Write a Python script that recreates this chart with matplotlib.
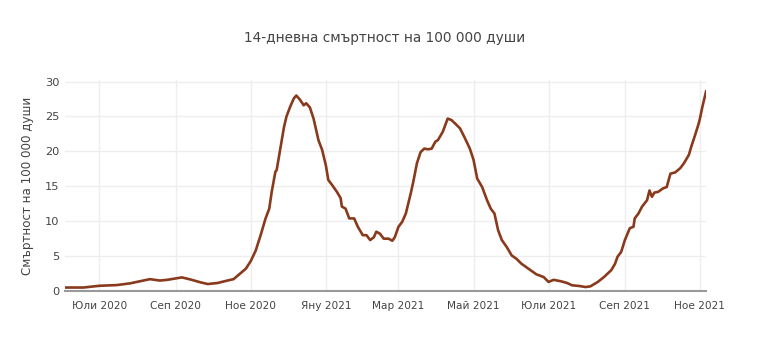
import pandas as pd
import matplotlib
matplotlib.use("Agg")
import matplotlib.pyplot as plt

# =========================
# DATA
# =========================
dates = [
    "2020-06-03", "2020-06-18", "2020-07-01", "2020-07-15", "2020-07-26",
    "2020-08-03", "2020-08-11", "2020-08-19", "2020-08-25", "2020-09-06",
    "2020-09-13", "2020-09-21", "2020-09-27", "2020-10-05", "2020-10-13",
    "2020-10-18", "2020-10-24", "2020-10-28", "2020-11-01", "2020-11-05",
    "2020-11-09", "2020-11-13", "2020-11-16", "2020-11-18", "2020-11-21",
    "2020-11-22", "2020-11-25", "2020-11-28", "2020-11-30", "2020-12-03",
    "2020-12-06", "2020-12-08", "2020-12-11", "2020-12-14", "2020-12-16",
    "2020-12-19", "2020-12-22", "2020-12-26", "2020-12-29", "2021-01-01",
    "2021-01-03", "2021-01-06", "2021-01-10", "2021-01-13", "2021-01-14",
    "2021-01-17", "2021-01-20", "2021-01-24", "2021-01-27", "2021-01-31",
    "2021-02-03", "2021-02-06", "2021-02-09", "2021-02-11", "2021-02-14",
    "2021-02-17", "2021-02-21", "2021-02-24", "2021-02-26", "2021-03-01",
    "2021-03-04", "2021-03-07", "2021-03-11", "2021-03-13", "2021-03-16",
    "2021-03-19", "2021-03-22", "2021-03-25", "2021-03-28", "2021-03-31",
    "2021-04-02", "2021-04-06", "2021-04-10", "2021-04-13", "2021-04-16",
    "2021-04-20", "2021-04-24", "2021-04-28", "2021-05-01", "2021-05-04",
    "2021-05-08", "2021-05-12", "2021-05-15", "2021-05-18", "2021-05-21",
    "2021-05-24", "2021-05-28", "2021-06-01", "2021-06-05", "2021-06-09",
    "2021-06-13", "2021-06-17", "2021-06-21", "2021-06-27", "2021-07-01",
    "2021-07-05", "2021-07-11", "2021-07-16", "2021-07-20", "2021-07-26",
    "2021-07-31", "2021-08-04", "2021-08-10", "2021-08-15", "2021-08-21",
    "2021-08-24", "2021-08-26", "2021-08-29", "2021-09-01", "2021-09-05",
    "2021-09-08", "2021-09-09", "2021-09-12", "2021-09-15", "2021-09-19",
    "2021-09-21", "2021-09-23", "2021-09-25", "2021-09-28", "2021-10-02",
    "2021-10-05", "2021-10-08", "2021-10-12", "2021-10-16", "2021-10-19",
    "2021-10-23", "2021-10-25", "2021-10-28", "2021-10-31", "2021-11-01",
    "2021-11-03", "2021-11-06",
]
deaths_per_100k = [
    0.5, 0.5, 0.75, 0.85, 1.1,
    1.4, 1.7, 1.5, 1.6, 1.95,
    1.65, 1.25, 1.0, 1.15, 1.5,
    1.7, 2.6, 3.2, 4.3, 5.8,
    8.0, 10.4, 11.8, 14.2, 17.1,
    17.3, 20.4, 23.5, 25.0, 26.4,
    27.6, 28.0, 27.4, 26.6, 26.9,
    26.3, 24.7, 21.6, 20.2, 18.0,
    15.9, 15.2, 14.2, 13.3, 12.1,
    11.8, 10.4, 10.4, 9.2, 8.0,
    8.0, 7.3, 7.7, 8.5, 8.2,
    7.5, 7.5, 7.2, 7.7, 9.2,
    9.9, 11.1, 14.0, 15.6, 18.3,
    19.9, 20.4, 20.3, 20.4, 21.4,
    21.6, 22.8, 24.7, 24.5, 24.0,
    23.3, 21.9, 20.4, 18.8, 16.1,
    14.9, 13.0, 11.8, 11.1, 8.7,
    7.3, 6.3, 5.1, 4.6, 3.9,
    3.4, 2.9, 2.4, 2.0, 1.3,
    1.6, 1.4, 1.15, 0.82, 0.72,
    0.57, 0.67, 1.3, 2.0, 3.0,
    3.9, 4.9, 5.6, 7.3, 9.0,
    9.2, 10.4, 11.1, 12.1, 13.0,
    14.4, 13.5, 14.1, 14.2, 14.7,
    14.9, 16.8, 17.0, 17.6, 18.3,
    19.5, 20.7, 22.3, 24.0, 24.7,
    26.4, 28.6,
]

tick_dates = ["2020-07-01", "2020-09-01", "2020-11-01", "2021-01-01", "2021-03-01",
              "2021-05-01", "2021-07-01", "2021-09-01", "2021-11-01"]
tick_labels = ["Юли 2020", "Сеп 2020", "Ное 2020", "Яну 2021", "Мар 2021",
               "Май 2021", "Юли 2021", "Сеп 2021", "Ное 2021"]
y_ticks = [0, 5, 10, 15, 20, 25, 30]

TITLE = "14-дневна смъртност на 100 000 души"
Y_LABEL = "Смъртност на 100 000 души"

LINE_COLOR = "#8a3a1c"
TEXT_COLOR = "#444444"

# =========================
# PLOT
# =========================
plt.rcParams["font.family"] = ["DejaVu Sans"]

x = pd.to_datetime(dates)

fig = plt.figure(figsize=(7.7, 3.64), dpi=100)
ax = fig.add_axes([0.0844, 0.2005, 0.8326, 0.5792])

ax.plot(x, deaths_per_100k, color=LINE_COLOR, linewidth=1.9, solid_joinstyle="round")

ax.set_xlim(x.min(), x.max())
ax.set_ylim(0, 30.2)

ax.set_xticks(pd.to_datetime(tick_dates))
ax.set_xticklabels(tick_labels)
ax.set_yticks(y_ticks)

ax.grid(True, color="#eeeeee", linewidth=1.0)
ax.set_axisbelow(True)
for side in ["top", "right", "left"]:
    ax.spines[side].set_visible(False)
ax.spines["bottom"].set_color("#999999")
ax.spines["bottom"].set_linewidth(1.5)

ax.tick_params(axis="both", length=0, labelcolor=TEXT_COLOR, labelsize=7.6)
ax.tick_params(axis="x", pad=7)
ax.tick_params(axis="y", pad=4, labelsize=8.2)

ax.set_ylabel(Y_LABEL, color=TEXT_COLOR, fontsize=8.6, labelpad=8)
fig.suptitle(TITLE, x=0.5, y=0.915, color=TEXT_COLOR, fontsize=9.8)

fig.savefig("out.png", dpi=100, facecolor="white")
